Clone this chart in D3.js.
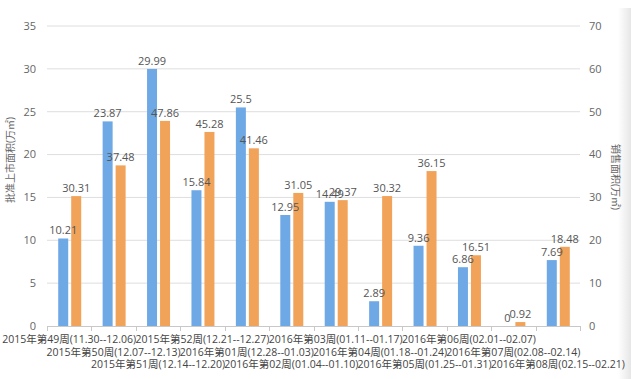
<!DOCTYPE html>
<html><head><meta charset="utf-8">
<script src="https://cdn.jsdelivr.net/npm/d3@7"></script>
<style>
html,body{margin:0;padding:0;background:#fff;}
svg{display:block;font-family:"Open Sans","Noto Sans CJK SC",sans-serif;}
</style></head>
<body>
<svg id="c" width="631" height="379"></svg>
<script>
const categories = [
  "2015年第49周(11.30--12.06)","2015年第50周(12.07--12.13)","2015年第51周(12.14--12.20)",
  "2015年第52周(12.21--12.27)","2016年第01周(12.28--01.03)","2016年第02周(01.04--01.10)",
  "2016年第03周(01.11--01.17)","2016年第04周(01.18--01.24)","2016年第05周(01.25--01.31)",
  "2016年第06周(02.01--02.07)","2016年第07周(02.08--02.14)","2016年第08周(02.15--02.21)"
];
const approvedArea = [10.21, 23.87, 29.99, 15.84, 25.5, 12.95, 14.49, 2.89, 9.36, 6.86, 0, 7.69];
const salesArea = [30.31, 37.48, 47.86, 45.28, 41.46, 31.05, 29.37, 30.32, 36.15, 16.51, 0.92, 18.48];
const leftTicks = [0,5,10,15,20,25,30,35];
const rightTicks = [0,10,20,30,40,50,60,70];
const leftTitle = "批准上市面积(万㎡)";
const rightTitle = "销售面积(万㎡)";

const svg = d3.select("#c");
const L = 47, R = 580, T = 26, B = 326;
const blue = "#6ea9e6", orange = "#f2a35a";

const x = d3.scaleBand().domain(categories).range([L, R]);
const yL = d3.scaleLinear().domain([0, 35]).range([B, T]);
const yR = d3.scaleLinear().domain([0, 70]).range([B, T]);

// right edge shading
const defs = svg.append("defs");
const g = defs.append("linearGradient").attr("id","sh").attr("x1","0").attr("x2","1");
g.append("stop").attr("offset","0").attr("stop-color","#ffffff");
g.append("stop").attr("offset","1").attr("stop-color","#e6e6e6");
svg.append("rect").attr("x",618).attr("y",8).attr("width",13).attr("height",371).attr("fill","url(#sh)");

// gridlines
svg.append("g").selectAll("line").data(leftTicks.slice(1)).join("line")
  .attr("x1", L).attr("x2", R).attr("y1", d => yL(d)).attr("y2", d => yL(d))
  .attr("stroke", "#dedede").attr("stroke-width", 1);

// left axis labels
svg.append("g").selectAll("text").data(leftTicks).join("text")
  .attr("x", 36).attr("y", d => yL(d)).attr("dy", "0.35em")
  .attr("text-anchor", "end").attr("font-size", 11).attr("fill", "#666")
  .text(d => d);
// right axis labels
svg.append("g").selectAll("text").data(rightTicks).join("text")
  .attr("x", 589).attr("y", d => yR(d)).attr("dy", "0.35em")
  .attr("text-anchor", "start").attr("font-size", 11).attr("fill", "#666")
  .text(d => d);

// bars
const bw = 10, gap = 3;
const grp = svg.append("g");
grp.selectAll("rect.a").data(categories).join("rect").attr("class","a")
  .attr("x", (d,i) => x(d) + x.bandwidth()/2 - bw - gap/2 + 0.5)
  .attr("width", bw)
  .attr("y", (d,i) => yL(approvedArea[i]))
  .attr("height", (d,i) => B - yL(approvedArea[i]))
  .attr("fill", blue);
grp.selectAll("rect.b").data(categories).join("rect").attr("class","b")
  .attr("x", (d,i) => x(d) + x.bandwidth()/2 + gap/2 + 0.5)
  .attr("width", bw)
  .attr("y", (d,i) => yR(salesArea[i]))
  .attr("height", (d,i) => B - yR(salesArea[i]))
  .attr("fill", orange);

// value labels
grp.selectAll("text.a").data(categories).join("text").attr("class","a")
  .attr("x", (d,i) => x(d) + x.bandwidth()/2 - bw/2 - gap/2 + 0.5)
  .attr("y", (d,i) => yL(approvedArea[i]) - 4)
  .attr("text-anchor","middle").attr("font-size",11).attr("fill","#555")
  .text((d,i) => approvedArea[i]);
grp.selectAll("text.b").data(categories).join("text").attr("class","b")
  .attr("x", (d,i) => x(d) + x.bandwidth()/2 + bw/2 + gap/2 + 0.5)
  .attr("y", (d,i) => yR(salesArea[i]) - 4)
  .attr("text-anchor","middle").attr("font-size",11).attr("fill","#555")
  .text((d,i) => salesArea[i]);

// x axis
const xa = svg.append("g");
xa.append("line").attr("x1", L).attr("x2", R).attr("y1", B+0.5).attr("y2", B+0.5).attr("stroke","#c8c8c8");
const edges = categories.map(d => x(d)).concat([R]);
xa.selectAll("line.t").data(edges).join("line").attr("class","t")
  .attr("x1", d => Math.round(d)+0.5).attr("x2", d => Math.round(d)+0.5)
  .attr("y1", B).attr("y2", B+5).attr("stroke","#c8c8c8");
xa.selectAll("text").data(categories).join("text")
  .attr("x", d => x(d) + x.bandwidth()/2)
  .attr("y", (d,i) => 343 + (i % 3) * 12.5)
  .attr("text-anchor","middle").attr("font-size",10.5).attr("fill","#444")
  .text(d => d);

// axis titles
svg.append("text").attr("transform", "translate(14,160) rotate(-90)")
  .attr("text-anchor","middle").attr("font-size",10).attr("fill","#666").text(leftTitle);
svg.append("text").attr("transform", "translate(612,177) rotate(90)")
  .attr("text-anchor","middle").attr("font-size",10).attr("fill","#666").text(rightTitle);
</script>
</body></html>
